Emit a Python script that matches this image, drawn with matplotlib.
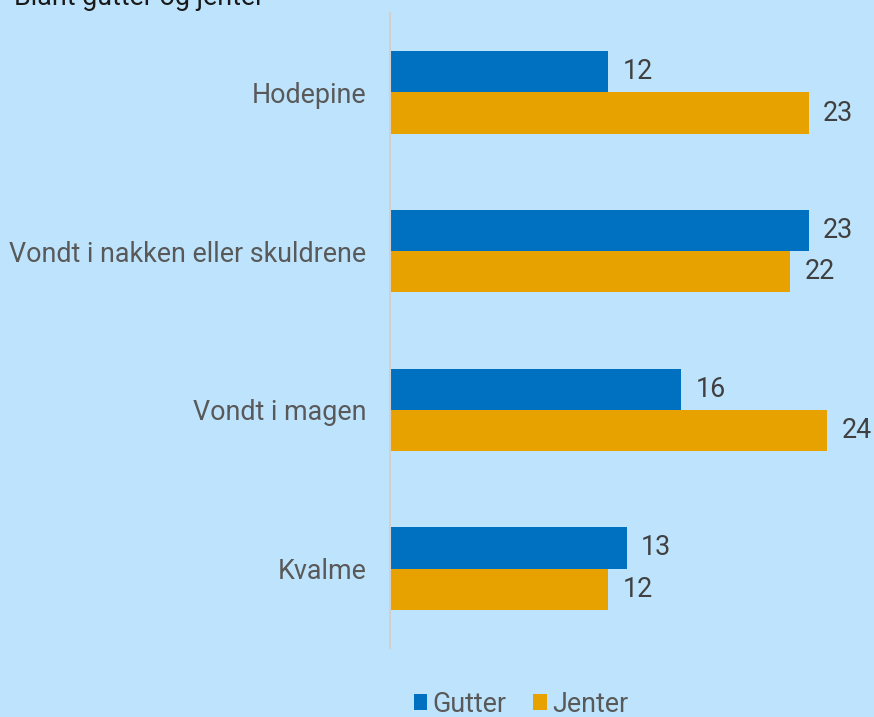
import matplotlib
matplotlib.use("Agg")
import matplotlib.pyplot as plt
import numpy as np

categories = ["Hodepine", "Vondt i nakken eller skuldrene", "Vondt i magen", "Kvalme"]
gutter = [12, 23, 16, 13]
jenter = [23, 22, 24, 12]
series_names = ["Gutter", "Jenter"]

bg = "#BEE4FD"
blue = "#0070C0"
orange = "#E8A200"
fs = 19.4

plt.rcParams["font.family"] = ["Roboto", "DejaVu Sans"]

fig = plt.figure(figsize=(8.74, 7.17), dpi=100, facecolor=bg)
ax = fig.add_axes([390 / 874, 1 - 648 / 717, 476 / 874, 635 / 717])
ax.set_facecolor(bg)

y = np.arange(len(categories))
h = 0.26
b1 = ax.barh(y - h / 2, gutter, height=h, color=blue, label=series_names[0])
b2 = ax.barh(y + h / 2, jenter, height=h, color=orange, label=series_names[1])

for bars, vals in ((b1, gutter), (b2, jenter)):
    for rect, v in zip(bars, vals):
        ax.annotate(f"{v}", (v, rect.get_y() + rect.get_height() / 2),
                    xytext=(10.5, 0), textcoords="offset points",
                    va="center", ha="left", fontsize=fs, color="#404040",
                    clip_on=False)

ax.set_xlim(0, 26.15)
ax.set_ylim(len(categories) - 0.5, -0.5)
ax.set_yticks(y)
ax.set_yticklabels(categories, fontsize=fs, color="#595959")
ax.tick_params(axis="y", length=0, pad=17)
ax.set_xticks([])
for s in ("top", "right", "bottom"):
    ax.spines[s].set_visible(False)
ax.spines["left"].set_color("#D0D0D0")
ax.spines["left"].set_linewidth(1.5)

fig.text(14 / 874, 1 - 5 / 717, "Blant gutter og jenter", fontsize=fs,
         color="#1a1a1a", ha="left", va="baseline")

leg = fig.legend(handles=[b1, b2], loc="center", bbox_to_anchor=(521 / 874, 1 - 704 / 717),
                 ncol=2, frameon=False, fontsize=fs, handlelength=0.5, handleheight=0.5,
                 handletextpad=0.2, columnspacing=1.0, borderpad=0)
for t in leg.get_texts():
    t.set_color("#595959")

fig.savefig("out.png", dpi=100, facecolor=bg)
